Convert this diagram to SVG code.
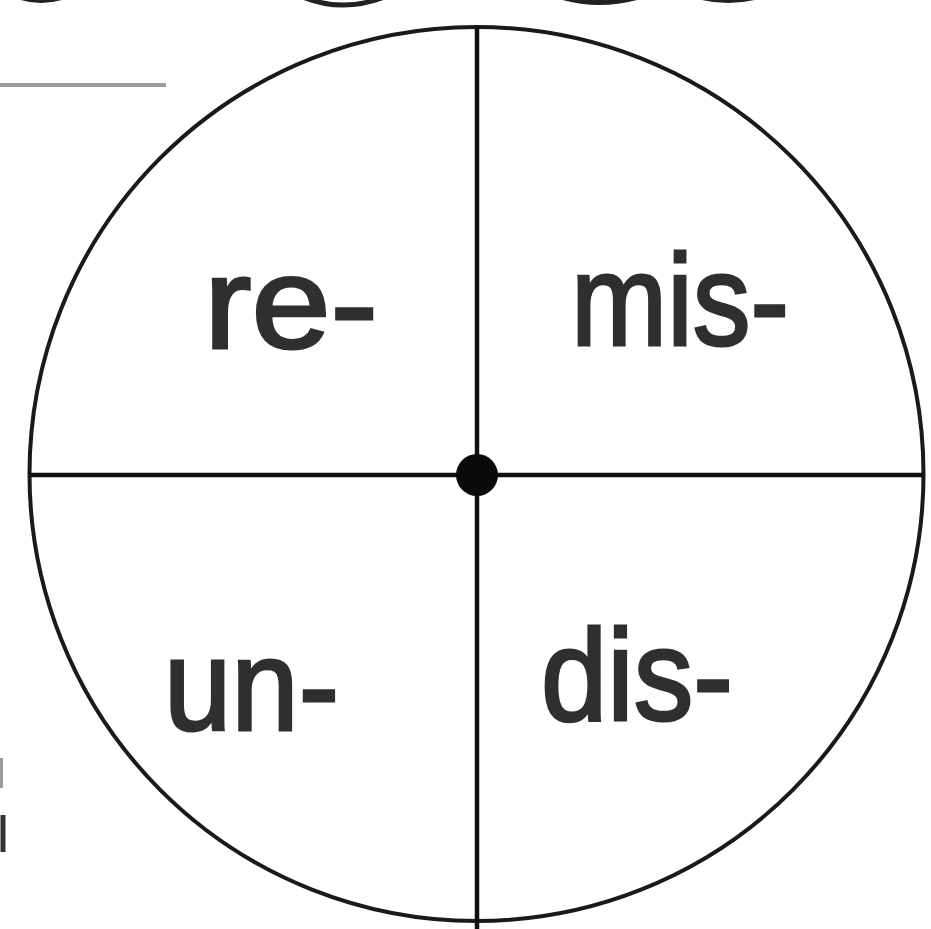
<svg xmlns="http://www.w3.org/2000/svg" width="931" height="929" viewBox="0 0 931 929">
  <style>
    .ring { fill: #ffffff; stroke: #1a1a1a; stroke-width: 4; }
    .axis { stroke: #111111; stroke-width: 4.5; fill: none; }
    .lbl { font-family: "Liberation Sans", Arial, sans-serif; font-size: 130px; fill: #2f2f2f; stroke: #2f2f2f; stroke-width: 3; }
    .frag { fill: none; stroke: #222222; stroke-width: 5; }
  </style>
  <rect width="931" height="929" fill="#ffffff"/>
  <g id="fragments">
    <line x1="0" y1="85" x2="166" y2="85" stroke="#9a9a9a" stroke-width="4"/>
    <path class="frag" d="M12,-6 Q38,6 66,-4"/>
    <path class="frag" d="M296,-6 Q338,14 382,-2" stroke="#555555"/>
    <path class="frag" d="M552,-6 Q596,10 642,-4"/>
    <path class="frag" d="M690,-6 Q725,6 760,-4"/>
    <line x1="1.5" y1="758" x2="1.5" y2="788" stroke="#9a9a9a" stroke-width="3"/>
    <line x1="3" y1="815" x2="3" y2="852" stroke="#333333" stroke-width="5"/>
  </g>
  <g id="wheel">
    <circle class="ring" cx="476.5" cy="474" r="447"/>
  </g>
  <g id="connectors">
    <line class="axis" x1="477" y1="27" x2="477" y2="929"/>
    <line class="axis" x1="29" y1="475" x2="924" y2="475"/>
  </g>
  <g id="hub">
    <circle cx="477" cy="475" r="21" fill="#0a0a0a"/>
  </g>
  <g id="node-re">
    <text class="lbl" x="204" y="348" textLength="174" lengthAdjust="spacingAndGlyphs">re-</text>
  </g>
  <g id="node-mis">
    <text class="lbl" x="571" y="345" textLength="218" lengthAdjust="spacingAndGlyphs">mis-</text>
  </g>
  <g id="node-un">
    <text class="lbl" x="164" y="730" textLength="175" lengthAdjust="spacingAndGlyphs">un-</text>
  </g>
  <g id="node-dis">
    <text class="lbl" x="541" y="720" textLength="192" lengthAdjust="spacingAndGlyphs">dis-</text>
  </g>
</svg>
